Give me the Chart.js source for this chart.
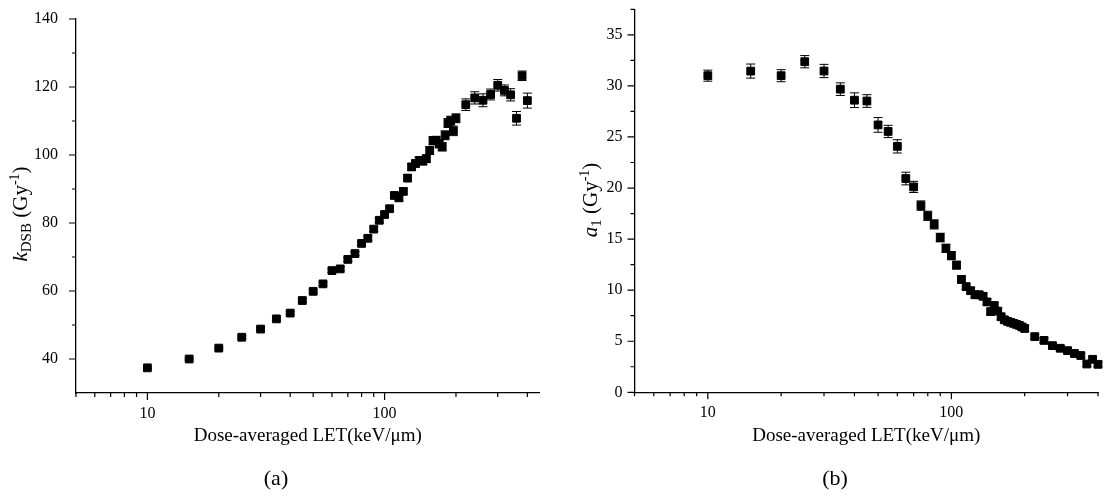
<!DOCTYPE html>
<html>
<head>
<meta charset="utf-8">
<script src="https://cdn.jsdelivr.net/npm/chart.js@4.4.0/dist/chart.umd.min.js"></script>
<style>
  html, body { margin: 0; padding: 0; background: #fff; }
  #wrap { position: relative; width: 1105px; height: 500px; overflow: hidden; }
  .panel { position: absolute; top: 0; height: 500px; }
  #panelA { left: 0; width: 555px; }
  #panelB { left: 555px; width: 550px; }
</style>
</head>
<body>
<div id="wrap">
  <div class="panel" id="panelA"><canvas id="chartA" width="555" height="500"></canvas></div>
  <div class="panel" id="panelB"><canvas id="chartB" width="550" height="500"></canvas></div>
</div>
<script>
// Dose-averaged LET (keV/um)
const letValues = [10, 15, 20, 25, 30, 35, 40, 45, 50, 55, 60, 65, 70, 75, 80, 85, 90, 95, 100,
  105, 110, 115, 120, 125, 130, 135, 140, 145, 150, 155, 160, 165, 170, 175, 180, 185, 190, 195, 200,
  220, 240, 260, 280, 300, 320, 340, 360, 380, 400];

// panel (a) : k_DSB (Gy^-1)
const kDsb = [37.4, 40.0, 43.2, 46.4, 48.8, 51.8, 53.5, 57.2, 59.9, 62.1, 66.0, 66.5, 69.3, 71.0, 74.0, 75.5, 78.2, 80.8, 82.5,
  84.2, 88.1, 87.4, 89.3, 93.2, 96.5, 97.5, 98.4, 98.2, 98.9, 101.3, 104.2, 104.3, 103.3, 102.4, 105.8, 109.4, 110.1, 107.1, 110.8,
  114.8, 116.8, 116.1, 117.8, 120.5, 119.0, 117.7, 110.8, 123.3, 116.0];
const kDsbErr = [0.3, 0.3, 0.3, 0.4, 0.4, 0.4, 0.4, 0.5, 0.5, 0.5, 0.5, 0.6, 0.6, 0.6, 0.6, 0.7, 0.7, 0.7, 0.8,
  0.8, 0.9, 0.9, 0.9, 1.0, 1.0, 1.0, 1.0, 1.1, 1.1, 1.1, 1.2, 1.2, 1.2, 1.2, 1.3, 1.3, 1.3, 1.4, 1.3,
  1.7, 1.8, 1.9, 1.6, 1.7, 1.6, 1.8, 2.0, 1.4, 2.2];

// panel (b) : a_1 (Gy^-1)
const a1 = [31.0, 31.45, 31.0, 32.37, 31.46, 29.68, 28.6, 28.52, 26.18, 25.54, 24.08, 20.93, 20.11, 18.28, 17.28, 16.44, 15.15, 14.1, 13.38,
  12.45, 11.05, 10.35, 9.95, 9.55, 9.55, 9.4, 8.85, 7.9, 8.5, 7.95, 7.4, 7.1, 6.95, 6.85, 6.75, 6.65, 6.55, 6.4, 6.25,
  5.45, 5.08, 4.57, 4.31, 4.08, 3.8, 3.6, 2.77, 3.23, 2.74];
const a1Err = [0.54, 0.69, 0.59, 0.6, 0.65, 0.62, 0.72, 0.62, 0.72, 0.6, 0.65, 0.62, 0.55, 0.46, 0.45, 0.45, 0.42, 0.4, 0.4,
  0.38, 0.35, 0.3, 0.3, 0.3, 0.3, 0.3, 0.3, 0.3, 0.3, 0.3, 0.3, 0.3, 0.3, 0.3, 0.3, 0.3, 0.3, 0.3, 0.3,
  0.25, 0.25, 0.25, 0.25, 0.25, 0.25, 0.25, 0.25, 0.25, 0.25];

// tick positions
const xMajorTicks = [10, 100];
const xMinorTicks = [5, 6, 7, 8, 9, 20, 30, 40, 50, 60, 70, 80, 90, 200, 300, 400];
const kMajorTicks = [40, 60, 80, 100, 120, 140];
const kMinorTicks = [50, 70, 90, 110, 130];
const aMajorTicks = [0, 5, 10, 15, 20, 25, 30, 35];
const aMinorTicks = [2.5, 7.5, 12.5, 17.5, 22.5, 27.5, 32.5, 37.5];

const SERIF = '"Liberation Serif", "Times New Roman", serif';

// barres d'erreur verticales dessinées avec les échelles du graphique
const errorBarPlugin = {
  id: 'errorBars',
  beforeDatasetsDraw(chart, args, opts) {
    const ctx = chart.ctx;
    const xs = chart.scales.x, ys = chart.scales.y;
    const vals = opts.values, errs = opts.errors;
    ctx.save();
    ctx.strokeStyle = '#000';
    ctx.lineWidth = 1;
    for (let i = 0; i < letValues.length; i++) {
      const px = xs.getPixelForValue(letValues[i]);
      const top = ys.getPixelForValue(vals[i] + errs[i]);
      const bot = ys.getPixelForValue(vals[i] - errs[i]);
      ctx.beginPath();
      ctx.moveTo(px, top); ctx.lineTo(px, bot);
      ctx.moveTo(px - 4.5, top); ctx.lineTo(px + 4.5, top);
      ctx.moveTo(px - 4.5, bot); ctx.lineTo(px + 4.5, bot);
      ctx.stroke();
    }
    ctx.restore();
  }
};

// graduations majeures / mineures + titres des axes
const axisDecorPlugin = {
  id: 'axisDecor',
  afterDraw(chart, args, opts) {
    const ctx = chart.ctx;
    const xs = chart.scales.x, ys = chart.scales.y;
    const area = chart.chartArea;
    ctx.save();
    ctx.strokeStyle = '#000';
    ctx.lineWidth = 1.2;
    ctx.beginPath();
    xMajorTicks.forEach(v => { const p = xs.getPixelForValue(v); ctx.moveTo(p, area.bottom); ctx.lineTo(p, area.bottom + 7); });
    xMinorTicks.forEach(v => { const p = xs.getPixelForValue(v); ctx.moveTo(p, area.bottom); ctx.lineTo(p, area.bottom + 4); });
    opts.yMajor.forEach(v => { const p = ys.getPixelForValue(v); ctx.moveTo(area.left, p); ctx.lineTo(area.left - 7, p); });
    opts.yMinor.forEach(v => { const p = ys.getPixelForValue(v); ctx.moveTo(area.left, p); ctx.lineTo(area.left - 4, p); });
    ctx.stroke();

    ctx.fillStyle = '#000';
    ctx.textAlign = 'center';
    ctx.textBaseline = 'middle';
    ctx.font = '19px ' + SERIF;
    ctx.fillText('Dose-averaged LET(keV/\u03bcm)', (area.left + area.right) / 2, opts.xTitleY);
    ctx.font = '22px ' + SERIF;
    ctx.fillText(opts.panel, opts.panelX, opts.panelY);

    // titre vertical avec indice et exposant
    const parts = opts.yTitle;
    let total = 0;
    parts.forEach(p => { ctx.font = p.font; p.w = ctx.measureText(p.t).width; total += p.w; });
    ctx.translate(opts.yTitleX, opts.yTitleY);
    ctx.rotate(-Math.PI / 2);
    ctx.textAlign = 'left';
    ctx.textBaseline = 'alphabetic';
    let x = -total / 2;
    parts.forEach(p => { ctx.font = p.font; ctx.fillText(p.t, x, 7 + (p.dy || 0)); x += p.w; });
    ctx.restore();
  }
};

function zeroPad(s) {
  s.paddingTop = 0; s.paddingBottom = 0; s.paddingLeft = 0; s.paddingRight = 0;
}

function makeChart(canvasId, values, errors, cfg) {
  const points = letValues.map((x, i) => ({ x: x, y: values[i] }));
  return new Chart(document.getElementById(canvasId), {
    type: 'scatter',
    data: {
      datasets: [{
        data: points,
        pointStyle: 'rect',
        pointRadius: 5.5,
        pointHoverRadius: 5.5,
        backgroundColor: '#000',
        borderColor: '#000',
        borderWidth: 1,
        clip: false
      }]
    },
    options: {
      responsive: false,
      animation: false,
      devicePixelRatio: 1,
      events: [],
      layout: { padding: cfg.padding },
      plugins: {
        legend: { display: false },
        tooltip: { enabled: false },
        errorBars: { values: values, errors: errors },
        axisDecor: cfg.decor
      },
      scales: {
        x: {
          type: 'logarithmic',
          position: 'bottom',
          min: 5,
          max: cfg.xMax,
          grid: { display: false, drawTicks: false },
          border: { display: true, color: '#000', width: 1.3 },
          ticks: {
            autoSkip: false,
            maxRotation: 0,
            padding: 11,
            color: '#000',
            font: { family: SERIF, size: 16 },
            callback: v => (v === 10 || v === 100) ? String(v) : ''
          },
          afterFit: s => { s.height = cfg.xHeight; zeroPad(s); }
        },
        y: {
          min: cfg.yMin,
          max: cfg.yMax,
          grid: { display: false, drawTicks: false },
          border: { display: true, color: '#000', width: 1.3 },
          ticks: {
            stepSize: cfg.yStep,
            padding: cfg.yPad,
            color: '#000',
            font: { family: SERIF, size: 16 },
            callback: cfg.yLabel
          },
          afterFit: s => { s.width = cfg.yWidth; zeroPad(s); }
        }
      }
    },
    plugins: [errorBarPlugin, axisDecorPlugin]
  });
}

makeChart('chartA', kDsb, kDsbErr, {
  padding: { top: 19, right: 15.5, left: 0, bottom: 0 },
  xMax: 450, xHeight: 107,
  yMin: 30, yMax: 140, yStep: 10, yWidth: 76, yPad: 18,
  yLabel: v => (v % 20 === 0 ? String(v) : ''),
  decor: {
    yMajor: kMajorTicks, yMinor: kMinorTicks,
    xTitleY: 436, panel: '(a)', panelX: 276, panelY: 479,
    yTitleX: 20, yTitleY: 214,
    yTitle: [
      { t: 'k', font: 'italic 21px ' + SERIF },
      { t: 'DSB', font: '15px ' + SERIF, dy: 4 },
      { t: ' (Gy', font: '21px ' + SERIF },
      { t: '-1', font: '14px ' + SERIF, dy: -8 },
      { t: ')', font: '21px ' + SERIF }
    ]
  }
});

makeChart('chartB', a1, a1Err, {
  padding: { top: 9.3, right: 7, left: 0, bottom: 0 },
  xMax: 400, xHeight: 107.7,
  yMin: 0, yMax: 37.5, yStep: 2.5, yWidth: 79.5, yPad: 12,
  yLabel: v => (v % 5 === 0 ? String(v) : ''),
  decor: {
    yMajor: aMajorTicks, yMinor: aMinorTicks,
    xTitleY: 436, panel: '(b)', panelX: 280, panelY: 479,
    yTitleX: 35, yTitleY: 200,
    yTitle: [
      { t: 'a', font: 'italic 21px ' + SERIF },
      { t: '1', font: '15px ' + SERIF, dy: 4 },
      { t: ' (Gy', font: '21px ' + SERIF },
      { t: '-1', font: '14px ' + SERIF, dy: -8 },
      { t: ')', font: '21px ' + SERIF }
    ]
  }
});
</script>
</body>
</html>
